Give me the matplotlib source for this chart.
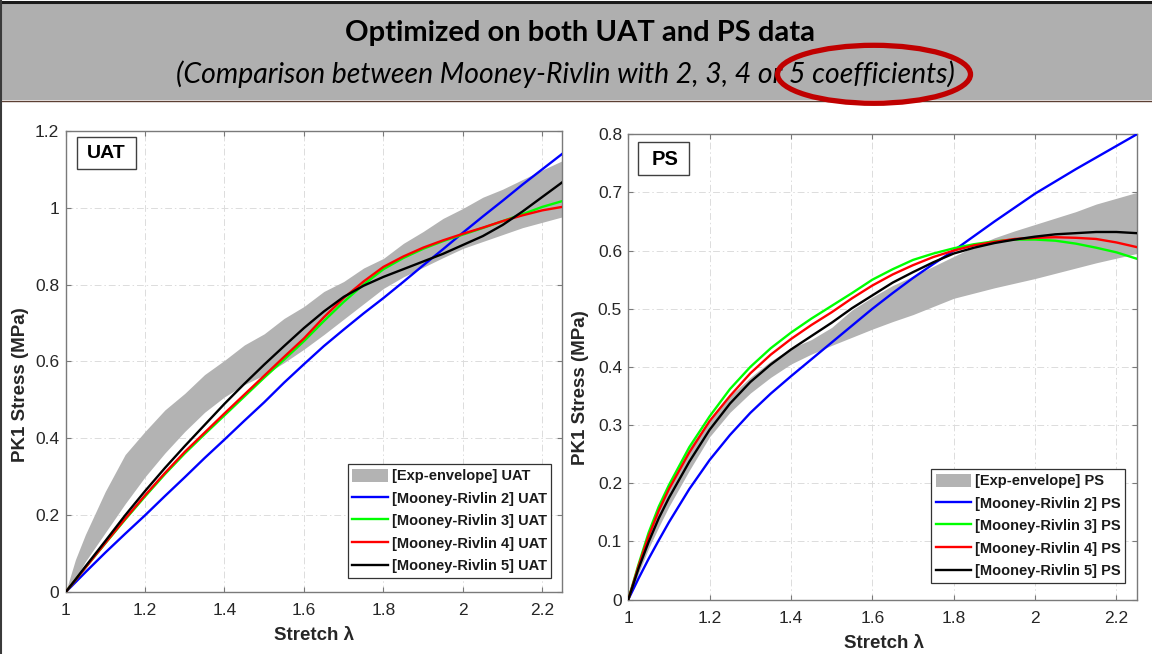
import matplotlib
matplotlib.use("Agg")
import matplotlib.pyplot as plt
from matplotlib.patches import Rectangle, Ellipse
from matplotlib.lines import Line2D

# ---------------- data ----------------
uat_x = [1.0, 1.025, 1.05, 1.1, 1.15, 1.2, 1.25, 1.3, 1.35, 1.4, 1.45, 1.5, 1.55, 1.6,
         1.65, 1.7, 1.75, 1.8, 1.85, 1.9, 1.95, 2.0, 2.05, 2.1, 2.15, 2.2, 2.25]
uat_env_upper = [0.0, 0.085, 0.15, 0.262, 0.358, 0.418, 0.474, 0.517, 0.566, 0.603, 0.643,
                 0.672, 0.712, 0.743, 0.782, 0.808, 0.843, 0.868, 0.907, 0.938, 0.972,
                 0.998, 1.027, 1.048, 1.073, 1.098, 1.122]
uat_env_lower = [0.0, 0.035, 0.08, 0.155, 0.23, 0.30, 0.362, 0.418, 0.468, 0.508, 0.54,
                 0.565, 0.597, 0.632, 0.67, 0.71, 0.75, 0.79, 0.82, 0.845, 0.87, 0.894,
                 0.912, 0.93, 0.948, 0.962, 0.976]
uat_mr2 = [0.0, 0.026, 0.052, 0.103, 0.152, 0.200, 0.250, 0.299, 0.349, 0.397, 0.446,
           0.494, 0.545, 0.593, 0.640, 0.683, 0.725, 0.765, 0.807, 0.850, 0.892, 0.935,
           0.977, 1.018, 1.060, 1.100, 1.140]
uat_mr3 = [0.0, 0.032, 0.064, 0.127, 0.189, 0.249, 0.307, 0.361, 0.411, 0.460, 0.509,
           0.558, 0.605, 0.653, 0.705, 0.755, 0.800, 0.840, 0.869, 0.893, 0.913, 0.930,
           0.947, 0.965, 0.983, 1.002, 1.017]
uat_mr4 = [0.0, 0.032, 0.064, 0.128, 0.191, 0.252, 0.310, 0.365, 0.415, 0.465, 0.514,
           0.563, 0.612, 0.660, 0.715, 0.765, 0.808, 0.846, 0.873, 0.896, 0.915, 0.932,
           0.948, 0.965, 0.980, 0.993, 1.002]
uat_mr5 = [0.0, 0.033, 0.067, 0.133, 0.200, 0.263, 0.323, 0.380, 0.435, 0.490, 0.542,
           0.592, 0.640, 0.687, 0.730, 0.768, 0.797, 0.820, 0.840, 0.860, 0.880, 0.903,
           0.926, 0.955, 0.990, 1.028, 1.066]

ps_x = [1.0, 1.025, 1.05, 1.075, 1.1, 1.15, 1.2, 1.25, 1.3, 1.35, 1.4, 1.45, 1.5, 1.55,
        1.6, 1.65, 1.7, 1.75, 1.8, 1.85, 1.9, 1.95, 2.0, 2.05, 2.1, 2.15, 2.2, 2.25]
ps_env_upper = [0.0, 0.065, 0.12, 0.163, 0.2, 0.262, 0.31, 0.35, 0.382, 0.41, 0.432, 0.447,
                0.468, 0.498, 0.52, 0.54, 0.556, 0.573, 0.59, 0.607, 0.622, 0.634, 0.645,
                0.656, 0.667, 0.68, 0.69, 0.70]
ps_env_lower = [0.0, 0.045, 0.088, 0.125, 0.16, 0.222, 0.28, 0.322, 0.355, 0.382, 0.405,
                0.422, 0.437, 0.451, 0.465, 0.478, 0.49, 0.504, 0.518, 0.527, 0.536, 0.544,
                0.552, 0.561, 0.57, 0.579, 0.587, 0.595]
ps_mr2 = [0.0, 0.036, 0.07, 0.102, 0.133, 0.19, 0.24, 0.283, 0.321, 0.354, 0.384, 0.413,
          0.442, 0.471, 0.50, 0.527, 0.553, 0.577, 0.6, 0.625, 0.65, 0.674, 0.698, 0.719,
          0.74, 0.76, 0.78, 0.8]
ps_mr3 = [0.0, 0.06, 0.115, 0.16, 0.197, 0.262, 0.315, 0.362, 0.40, 0.432, 0.459, 0.483,
          0.505, 0.527, 0.55, 0.568, 0.584, 0.595, 0.604, 0.611, 0.616, 0.619, 0.619,
          0.617, 0.612, 0.605, 0.597, 0.586]
ps_mr4 = [0.0, 0.057, 0.109, 0.153, 0.19, 0.253, 0.307, 0.35, 0.389, 0.421, 0.448, 0.472,
          0.494, 0.518, 0.54, 0.559, 0.575, 0.589, 0.6, 0.609, 0.615, 0.62, 0.622, 0.623,
          0.622, 0.62, 0.614, 0.606]
ps_mr5 = [0.0, 0.053, 0.099, 0.14, 0.175, 0.237, 0.292, 0.337, 0.374, 0.404, 0.43, 0.453,
          0.476, 0.501, 0.523, 0.545, 0.563, 0.58, 0.595, 0.605, 0.613, 0.619, 0.624,
          0.628, 0.63, 0.632, 0.632, 0.63]

x_ticks = [1, 1.2, 1.4, 1.6, 1.8, 2, 2.2]
x_ticklabels = ["1", "1.2", "1.4", "1.6", "1.8", "2", "2.2"]
uat_yticks = [0, 0.2, 0.4, 0.6, 0.8, 1.0, 1.2]
uat_yticklabels = ["0", "0.2", "0.4", "0.6", "0.8", "1", "1.2"]
ps_yticks = [0, 0.1, 0.2, 0.3, 0.4, 0.5, 0.6, 0.7, 0.8]
ps_yticklabels = ["0", "0.1", "0.2", "0.3", "0.4", "0.5", "0.6", "0.7", "0.8"]

model_names = ["Mooney-Rivlin 2", "Mooney-Rivlin 3", "Mooney-Rivlin 4", "Mooney-Rivlin 5"]
model_colors = ["#0000FF", "#00FF00", "#FF0000", "#000000"]

title = "Optimized on both UAT and PS data"
subtitle = "(Comparison between Mooney-Rivlin with 2, 3, 4 or 5 coefficients)"

# ---------------- figure ----------------
W, H = 1152, 654
fig = plt.figure(figsize=(W / 100, H / 100), dpi=100)
fig.patch.set_facecolor("white")
plt.rcParams["font.family"] = ["Liberation Sans", "DejaVu Sans"]

# header band
fig.add_artist(Rectangle((0, 1 - 100 / H), 1, 97 / H, transform=fig.transFigure,
                         facecolor="#AFAFAF", edgecolor="none", zorder=0))
fig.add_artist(Line2D([0, 1], [1 - 1.5 / H, 1 - 1.5 / H], transform=fig.transFigure,
                      color="#1a1a1a", lw=2.2))
fig.add_artist(Line2D([0, 1], [1 - 100.5 / H, 1 - 100.5 / H], transform=fig.transFigure,
                      color="#5c4033", lw=1.0))
fig.add_artist(Line2D([1 / W, 1 / W], [0, 1], transform=fig.transFigure,
                      color="#3a3a3a", lw=1.5))

t1 = fig.text(580.3 / W, 1 - 41 / H, title, ha="center", va="baseline",
              fontsize=19, fontweight="bold", family=["Lato", "DejaVu Sans"], color="black")
t2 = fig.text(565.5 / W, 1 - 82.5 / H, subtitle, ha="center", va="baseline",
              fontsize=17, style="italic", family=["Lato", "DejaVu Sans"], color="black")

renderer = fig.canvas.get_renderer()
for t, target in ((t1, 470.0), (t2, 779.0)):
    w = t.get_window_extent(renderer).width
    t.set_fontsize(t.get_fontsize() * target / w)

fig.add_artist(Ellipse((874 / W, 1 - 74.3 / H), 193 / W, 58 / H, transform=fig.transFigure,
                       facecolor="none", edgecolor="#C00000", lw=3.8, zorder=5))


def style_axes(ax, yticks, yticklabels, ylim):
    ax.set_xlim(1, 2.25)
    ax.set_ylim(*ylim)
    ax.set_xticks(x_ticks)
    ax.set_xticklabels(x_ticklabels)
    ax.set_yticks(yticks)
    ax.set_yticklabels(yticklabels)
    ax.grid(True, color="#DCDCDC", lw=0.7, linestyle=(0, (7, 3, 1.5, 3)))
    ax.set_axisbelow(True)
    for s in ax.spines.values():
        s.set_color("#7a7a7a")
        s.set_linewidth(1.0)
    ax.tick_params(direction="in", length=3.6, width=0.8, color="#7a7a7a",
                   labelcolor="#262626", labelsize=12.5, top=True, right=True)
    ax.tick_params(axis="x", pad=8)
    ax.tick_params(axis="y", pad=4.5)


def draw_panel(ax, x, lower, upper, curves, tag):
    ax.fill_between(x, lower, upper, color="#B3B3B3", lw=0, label="[Exp-envelope] " + tag,
                    zorder=2)
    for name, col, y in zip(model_names, model_colors, curves):
        ax.plot(x, y, color=col, lw=1.7, label="[" + name + "] " + tag, zorder=3)


ax1 = fig.add_axes([65.5 / W, 1 - 592.3 / H, 496.8 / W, 461.6 / H])
draw_panel(ax1, uat_x, uat_env_lower, uat_env_upper,
           [uat_mr2, uat_mr3, uat_mr4, uat_mr5], "UAT")
style_axes(ax1, uat_yticks, uat_yticklabels, (0, 1.2))

ax2 = fig.add_axes([628.3 / W, 1 - 599.5 / H, 508.5 / W, 465.2 / H])
draw_panel(ax2, ps_x, ps_env_lower, ps_env_upper,
           [ps_mr2, ps_mr3, ps_mr4, ps_mr5], "PS")
style_axes(ax2, ps_yticks, ps_yticklabels, (0, 0.8))

for ax, anchor, xl, yl in ((ax1, (0.9777, 0.0316), (0.50, -0.0745), (-0.0735, 0.449)),
                           (ax2, (0.9768, 0.0361), (0.502, -0.0763), (-0.078, 0.456))):
    ax.set_xlabel("Stretch λ", fontsize=13.5, fontweight="bold", color="#262626")
    ax.set_ylabel("PK1 Stress (MPa)", fontsize=13.5, fontweight="bold", color="#262626")
    ax.xaxis.set_label_coords(*xl)
    ax.yaxis.set_label_coords(*yl)
    leg = ax.legend(loc="lower right", bbox_to_anchor=anchor, borderaxespad=0,
                    prop={"weight": "bold", "size": 10.5},
                    frameon=True, fancybox=False, framealpha=1, edgecolor="#333333",
                    borderpad=0.3, handletextpad=0.25, handlelength=2.45,
                    handleheight=1.0, labelspacing=0.55)
    leg.get_frame().set_linewidth(0.9)
    for txt in leg.get_texts():
        txt.set_color("#1a1a1a")

# tag boxes
ax1.add_patch(Rectangle((0.0238, 0.9164), 0.1178, 0.0706, transform=ax1.transAxes,
                        facecolor="white", edgecolor="#404040", lw=1.0, zorder=6))
ax1.text(0.0825, 0.9515, "UAT", transform=ax1.transAxes, ha="center", va="center",
         fontsize=14, fontweight="bold", zorder=7)
ax2.add_patch(Rectangle((0.0183, 0.9132), 0.1015, 0.0696, transform=ax2.transAxes,
                        facecolor="white", edgecolor="#404040", lw=1.0, zorder=6))
ax2.text(0.0726, 0.9463, "PS", transform=ax2.transAxes, ha="center", va="center",
         fontsize=14.5, fontweight="bold", zorder=7)

fig.savefig("out.png", dpi=100)
